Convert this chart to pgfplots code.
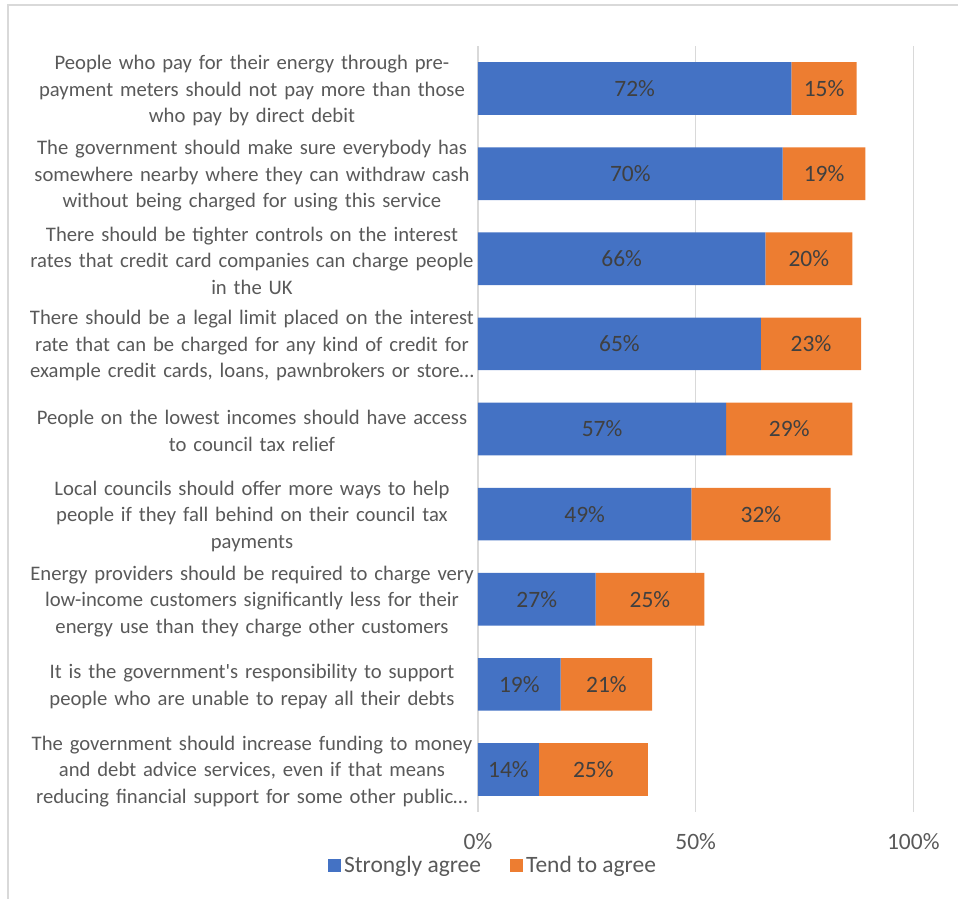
\documentclass[border=0pt]{standalone}
\usepackage{fontspec}
\setmainfont{Carlito}[Ligatures=TeXOff]
\usepackage{pgfplots}
\usepackage{pgfplotstable}
\pgfplotsset{compat=1.18}
\definecolor{cblue}{HTML}{4472C4}
\definecolor{corange}{HTML}{ED7D31}
\definecolor{cgrid}{HTML}{D9D9D9}
\definecolor{ctext}{HTML}{595959}
\definecolor{clab}{HTML}{404040}
\pgfplotstableread{
y strong tend
0 72 15
1 70 19
2 66 20
3 65 23
4 57 29
5 49 32
6 27 25
7 19 21
8 14 25
}\datatable
\begin{document}
\begin{tikzpicture}
\begin{axis}[
  at={(0,0)}, anchor=south west,
  scale only axis,
  width=326.5pt, height=574.5pt,
  xbar stacked,
  bar width=39.5pt,
  xmin=0, xmax=100,
  ymin=-0.5, ymax=8.5,
  y dir=reverse,
  axis line style={draw=none},
  xmajorgrids,
  major grid style={draw=cgrid, line width=1.1pt},
  major tick length=0pt,
  tick style={draw=none},
  xtick={0,50,100},
  xticklabels={0\%,50\%,100\%},
  xticklabel style={font=\fontsize{17.6}{21}\selectfont, text=ctext, anchor=center, yshift=-22.5pt},
  ytick={0,1,2,3,4,5,6,7,8},
  yticklabels={
    {People who pay for their energy through pre-\\payment meters should not pay more than those\\who pay by direct debit},
    {The government should make sure everybody has\\somewhere nearby where they can withdraw cash\\without being charged for using this service},
    {There should be tighter controls on the interest\\rates that credit card companies can charge people\\in the UK},
    {There should be a legal limit placed on the interest\\rate that can be charged for any kind of credit for\\example credit cards, loans, pawnbrokers or store…},
    {People on the lowest incomes should have access\\to council tax relief},
    {Local councils should offer more ways to help\\people if they fall behind on their council tax\\payments},
    {Energy providers should be required to charge very\\low-income customers significantly less for their\\energy use than they charge other customers},
    {It is the government's responsibility to support\\people who are unable to repay all their debts},
    {The government should increase funding to money\\and debt advice services, even if that means\\reducing financial support for some other public…}
  },
  yticklabel style={font=\fontsize{15.5}{19.9}\selectfont, text=ctext, text width=420pt, align=center, inner sep=0pt, anchor=center, xshift=-169.5pt, yshift=-1.5pt},
  nodes near coords={\pgfplotspointmeta\%},
  nodes near coords align={center},
  every node near coord/.append style={font=\fontsize{17.6}{21}\selectfont, text=clab, anchor=center},
  legend style={draw=none, fill=none, at={(0.0356,-0.0695)}, anchor=center, legend columns=2,
    font=\fontsize{17.6}{21}\selectfont, text=ctext,
    /tikz/every even column/.append style={column sep=20pt}},
  legend image code/.code={\fill[#1] (0pt,-4.9pt) rectangle (9.8pt,4.9pt);},
]
\addplot[fill=cblue, draw=none, point meta=explicit symbolic]
  table[x=strong, y=y, meta=strong] {\datatable};
\addlegendentry{Strongly agree}
\addplot[fill=corange, draw=none, point meta=explicit symbolic]
  table[x=tend, y=y, meta=tend] {\datatable};
\addlegendentry{Tend to agree}
\end{axis}
\draw[cgrid, line width=1.1pt] (-352.5pt,-80pt) -- (-352.5pt,605.25pt) -- (380pt,605.25pt);
\pgfresetboundingbox
\useasboundingbox (-358.5pt,-65.25pt) rectangle (360pt,609pt);
\end{tikzpicture}
\end{document}
